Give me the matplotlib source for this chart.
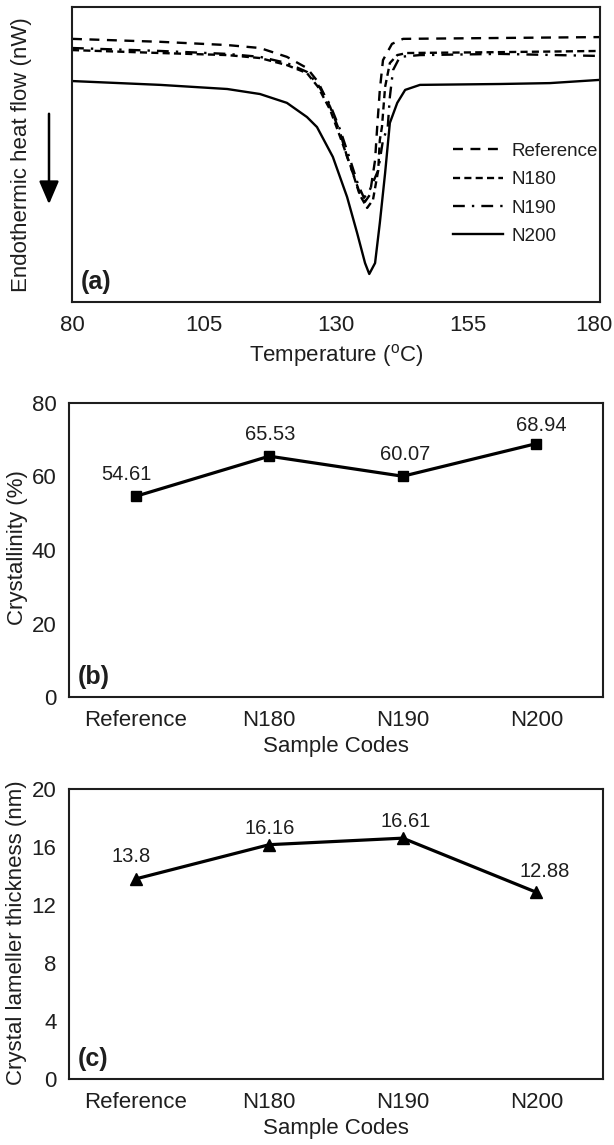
import numpy as np
import matplotlib
matplotlib.use('Agg')
from matplotlib import pyplot as plt
from matplotlib import transforms

plt.rcParams['font.family'] = ['Liberation Sans', 'DejaVu Sans']
plt.rcParams['mathtext.default'] = 'regular'
INK = '#1e1e1e'

# (a) DSC curves: temperature (C) and heat flow (arbitrary units)
t_ref = [80, 96.7, 109.4, 115.6, 120.7, 124.5, 126.6, 128.9, 130.8, 132.1, 133.2, 134.5,
         135.5, 136.4, 137.4, 137.8, 138.3, 138.9, 140.6, 142.7, 161.1, 180]
hf_ref = [89.2, 88.2, 87.1, 86.1, 83.1, 79.3, 74.6, 66.1, 57.3, 49.2, 43.7, 36.9,
          34.0, 36.3, 48.1, 59.3, 71.9, 82.0, 87.5, 89.2, 89.5, 89.8]

t_180 = [80, 96.7, 109.4, 115.6, 120.7, 124.5, 126.6, 128.9, 130.8, 132.7, 134.5, 135.9,
         137.0, 138.0, 138.3, 138.7, 139.3, 140.2, 141.6, 143.4, 161.1, 180]
hf_180 = [85.4, 84.4, 83.7, 82.7, 80.3, 77.6, 72.9, 65.1, 55.9, 46.4, 36.3, 31.9,
          34.6, 44.7, 54.9, 59.3, 72.9, 81.0, 83.7, 84.4, 84.7, 85.1]

t_190 = [80, 96.7, 109.4, 115.6, 120.7, 124.5, 126.6, 128.9, 130.8, 132.7, 134.2, 135.3,
         136.4, 138.0, 138.9, 139.8, 140.2, 140.8, 142.1, 145.9, 161.1, 180]
hf_190 = [86.1, 85.1, 84.1, 83.1, 81.0, 78.0, 73.6, 66.8, 58.3, 48.1, 39.7, 35.3,
          38.0, 44.7, 54.9, 59.3, 69.5, 78.6, 83.1, 83.7, 84.1, 83.4]

t_200 = [80, 96.7, 109.4, 115.6, 120.7, 124.5, 126.4, 129.4, 132.1, 134.0, 135.5, 136.3,
         137.4, 138.3, 139.3, 140.2, 141.6, 143.1, 145.9, 161.1, 170.5, 180]
hf_200 = [74.9, 73.6, 72.2, 70.5, 67.5, 62.7, 59.3, 49.2, 35.6, 23.4, 13.2, 9.5,
          13.2, 26.8, 43.7, 60.7, 67.5, 71.9, 73.6, 73.9, 74.2, 75.3]

# (b), (c) summary values
samples = ['Reference', 'N180', 'N190', 'N200']
crystallinity = [54.61, 65.53, 60.07, 68.94]
lamella = [13.8, 16.16, 16.61, 12.88]
lamella_txt = ['13.8', '16.16', '16.61', '12.88']

W, H = 614, 1145
fig = plt.figure(figsize=(W / 100, H / 100), dpi=100)

def px_axes(l, t, r, b):
    return fig.add_axes([l / W, 1 - b / H, (r - l) / W, (b - t) / H])

def style(ax):
    for s in ax.spines.values():
        s.set_linewidth(1.5)
        s.set_color(INK)
    ax.tick_params(length=0, labelsize=16, colors=INK, pad=9)

# ---- (a) ----
ax = px_axes(72, 7, 600, 302)
style(ax)
lw = 1.7
ax.plot(t_ref, hf_ref, color='k', lw=lw, ls=(0, (4.2, 3.2)), label='Reference')
ax.plot(t_180, hf_180, color='k', lw=lw, ls=(0, (3.0, 1.8)), label='N180')
ax.plot(t_190, hf_190, color='k', lw=lw, ls=(0, (5.0, 3.0, 1.0, 3.0)), label='N190')
ax.plot(t_200, hf_200, color='k', lw=lw, ls='-', label='N200')
ax.set_xlim(80, 180)
ax.set_ylim(0, 100)
ax.set_xticks([80, 105, 130, 155, 180])
ax.set_yticks([])
ax.set_xlabel(r'Temperature ($^{o}$C)', fontsize=16, color=INK, labelpad=5)
fig.canvas.draw()
last = ax.get_xticklabels()[-1]
last.set_transform(last.get_transform() + transforms.ScaledTranslation(-6 / 100, 0, fig.dpi_scale_trans))
leg = ax.legend(loc='upper left', bbox_to_anchor=(0.722, 0.54), frameon=False, borderpad=0,
                borderaxespad=0, fontsize=13.5, handlelength=2.65, handletextpad=0.45,
                labelspacing=0.6)
for t in leg.get_texts():
    t.set_color(INK)
ax.text(0.016, 0.045, '(a)', transform=ax.transAxes, fontsize=18, fontweight='bold', color=INK)
fig.text(22 / W, 1 - 155 / H, 'Endothermic heat flow (nW)', rotation=90, fontsize=16,
         color=INK, ha='center', va='center')
fig.add_artist(matplotlib.patches.FancyArrowPatch(
    (49 / W, 1 - 111 / H), (49 / W, 1 - 207 / H), transform=fig.transFigure,
    arrowstyle='-|>,head_length=0.7,head_width=0.3', mutation_scale=20, lw=1.8, color='k'))

# ---- (b) ----
ax = px_axes(69, 403, 603, 697)
style(ax)
x = np.arange(len(samples))
ax.plot(x, crystallinity, color='k', lw=2.3, marker='s', ms=7)
ax.set_xlim(-0.5, 3.5)
ax.set_ylim(0, 80)
ax.set_yticks([0, 20, 40, 60, 80])
ax.set_xticks(x)
ax.set_xticklabels(samples)
ax.set_xlabel('Sample Codes', fontsize=16, color=INK, labelpad=4)
offs_b = [(-7, 9), (1, 9), (2, 9), (4, 6.5)]
for i, v in enumerate(crystallinity):
    ax.annotate('%.2f' % v, (x[i], v), xytext=offs_b[i], textcoords='offset points',
                ha='center', va='bottom', fontsize=14.5, color=INK)
ax.text(0.016, 0.045, '(b)', transform=ax.transAxes, fontsize=18, fontweight='bold', color=INK)
fig.text(18 / W, 1 - 548 / H, 'Crystallinity (%)', rotation=90, fontsize=16,
         color=INK, ha='center', va='center')

# ---- (c) ----
ax = px_axes(69, 789, 603, 1079)
style(ax)
ax.plot(x, lamella, color='k', lw=2.3, marker='^', ms=8)
ax.set_xlim(-0.5, 3.5)
ax.set_ylim(0, 20)
ax.set_yticks([0, 4, 8, 12, 16, 20])
ax.set_xticks(x)
ax.set_xticklabels(samples)
ax.set_xlabel('Sample Codes', fontsize=16, color=INK, labelpad=4)
offs_c = [(-3, 9.5), (0, 5), (2, 5), (6, 8)]
for i, v in enumerate(lamella):
    ax.annotate(lamella_txt[i], (x[i], v), xytext=offs_c[i], textcoords='offset points',
                ha='center', va='bottom', fontsize=14.5, color=INK)
ax.text(0.016, 0.045, '(c)', transform=ax.transAxes, fontsize=18, fontweight='bold', color=INK)
fig.text(17 / W, 1 - 933 / H, 'Crystal lameller thickness (nm)', rotation=90, fontsize=16,
         color=INK, ha='center', va='center')

fig.savefig('out.png', dpi=100)
